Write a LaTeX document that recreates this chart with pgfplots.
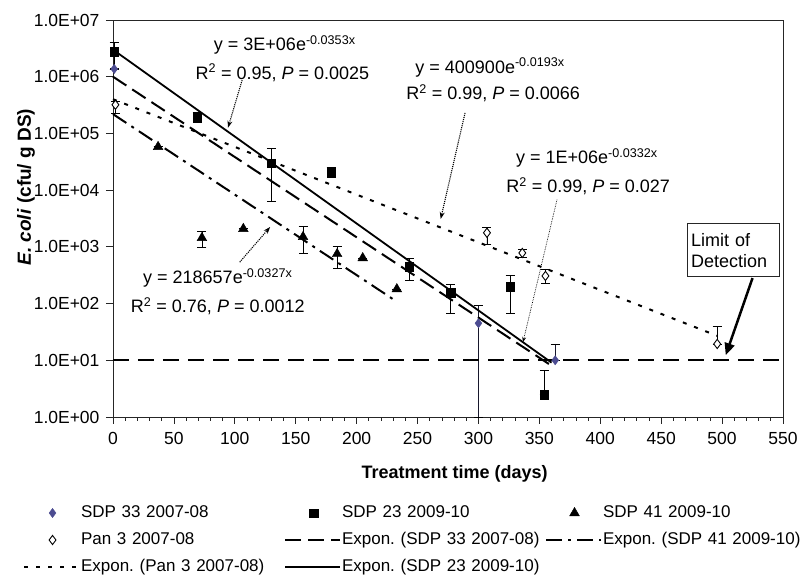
\documentclass[border=0pt]{standalone}
\usepackage{fontspec}
\setmainfont{Liberation Sans}
\usepackage{pgfplots}
\usepackage{pgfplotstable}
\pgfplotsset{compat=1.18}
\usetikzlibrary{arrows.meta}
\definecolor{sdpblue}{RGB}{76,76,145}
\frenchspacing

\pgfplotstableread{
x y ep em
1 1.37e6 0 0
300 45 46 44
363 10 9.4 0
}\sdpA
\pgfplotstableread{
x y ep em
1 2.75e6 1.35e6 1.35e6
69 1.95e5 0.41e5 0.41e5
130 3.0e4 2.4e4 2.36e4
179 2.1e4 0.45e4 0.45e4
243 445 185 185
277 154 68 86
326 196 112 128
354 2.5 4 0
}\sdpB
\pgfplotstableread{
x y ep em
37 5.8e4 0 0
73 1.44e3 450 450
107 2.08e3 0 0
156 1.5e3 780 720
184 750 270 325
205 635 0 0
233 180 0 0
}\sdpC
\pgfplotstableread{
x y ep em
2 3.2e5 0.5e5 0.9e5
307 1.77e3 430 650
336 780 140 140
355 307 100 77
496 19.4 19.6 0
}\pan

\newcommand{\fs}{\fontsize{17}{20}\selectfont}
\newcommand{\ft}{\fontsize{17.5}{20}\selectfont}
\newcommand{\fa}{\fontsize{18}{21}\selectfont}

\begin{document}
\begin{tikzpicture}
\path[use as bounding box] (0,0) rectangle (807pt,575pt);
\begin{axis}[
  at={(113pt,158pt)}, anchor=south west,
  scale only axis, width=670pt, height=397pt,
  xmin=0, xmax=550, ymin=1, ymax=1e7,
  ymode=log, log basis y=10,
  clip=false,
  axis line style={black!85, line width=0.9pt},
  xtick={0,50,...,550}, minor x tick num=4,
  ytick={1,10,100,1000,10000,100000,1000000,10000000},
  yticklabels={1.0E+00,1.0E+01,1.0E+02,1.0E+03,1.0E+04,1.0E+05,1.0E+06,1.0E+07},
  yminorticks=false,
  tick align=outside, tick pos=left,
  major tick length=7pt, minor tick length=4pt,
  every tick/.style={black!85, line width=0.8pt},
  tick label style={font=\ft},
  xticklabel style={yshift=-5pt},
  yticklabel style={xshift=-3pt},
  /pgf/number format/assume math mode=true,
  xlabel={\textbf{Treatment time (days)}},
  ylabel={\textbf{\textit{E. coli} (cfu/ g DS)}},
  every axis x label/.style={at={(axis description cs:0.51,-0.143)}, anchor=center, font=\fontsize{18}{21}\selectfont},
  every axis y label/.style={at={(axis description cs:-0.13,0.579)}, anchor=center, rotate=90, font=\fontsize{19}{22}\selectfont},
  legend columns=3,
  legend style={at={(axis description cs:-0.1343,-0.2179)}, anchor=north west,
    draw=none, fill=none, font=\fs, inner sep=0pt, outer sep=0pt, row sep=8pt, column sep=0pt,
    nodes={inner xsep=1pt, inner ysep=1pt, text width=202pt, align=left, text height=13pt, text depth=4pt}},
  markleg/.style={legend image code/.code={\draw[##1] plot coordinates {(28.5pt,0pt)};}},
  lineleg/.style={legend image code/.code={\draw[##1] (0pt,0pt) -- (55pt,0pt);}},
  errstyle/.style={error bars/.cd, y dir=both, y explicit,
    error bar style={line width=0.8pt, black},
    error mark options={rotate=90, mark size=4.5pt, line width=0.8pt, black}},
]
% data series
\addplot[only marks, mark=diamond*, mark size=4.6pt, draw=sdpblue, fill=sdpblue, markleg,
  error bars/.cd, y dir=both, y explicit,
  error bar style={line width=0.8pt, black!70!sdpblue},
  error mark options={rotate=90, mark size=4.5pt, line width=0.8pt, black}]
  table[x=x, y=y, y error plus=ep, y error minus=em]{\sdpA};
\addlegendentry{SDP 33 2007-08}
\addplot[only marks, mark=square*, mark size=4.3pt, black, markleg, errstyle]
  table[x=x, y=y, y error plus=ep, y error minus=em]{\sdpB};
\addlegendentry{SDP 23 2009-10}
\addplot[only marks, mark=triangle*, mark size=5.6pt, black, markleg, errstyle]
  table[x=x, y=y, y error plus=ep, y error minus=em]{\sdpC};
\addlegendentry{SDP 41 2009-10}
\addplot[only marks, mark=diamond*, mark size=4.6pt, draw=black, fill=white, mark options={line width=0.9pt}, markleg, errstyle]
  table[x=x, y=y, y error plus=ep, y error minus=em]{\pan};
\addlegendentry{Pan 3 2007-08}
% trend lines
\addplot[black, line width=2pt, dash pattern=on 16pt off 7pt, lineleg] coordinates {(0,1.0e6) (362,7.5)};
\addlegendentry{Expon. (SDP 33 2007-08)}
\addplot[black, line width=2pt, dash pattern=on 16pt off 6pt on 3pt off 6pt, lineleg] coordinates {(0,2.19e5) (233,108)};
\addlegendentry{Expon. (SDP 41 2009-10)}
\addplot[black, line width=2pt, dash pattern=on 4pt off 8pt, lineleg] coordinates {(0,4.01e5) (496,27)};
\addlegendentry{Expon. (Pan 3 2007-08)}
\addplot[black, line width=1.8pt, lineleg] coordinates {(0,3.0e6) (360,9.1)};
\addlegendentry{Expon. (SDP 23 2009-10)}
% limit of detection
\addplot[black, line width=2pt, dash pattern=on 16pt off 9pt, forget plot] coordinates {(0,10) (550,10)};

% annotations
\node[font=\fa] at (axis cs:141,3.63e6) {y = 3E+06e\textsuperscript{-0.0353x}};
\node[font=\fa] at (axis cs:139,1.17e6) {R\textsuperscript{2} = 0.95, \textit{P} = 0.0025};
\draw[densely dotted, line width=1.1pt, -{Stealth[length=7pt,width=5pt]}] (axis cs:106,8.7e5) -- (axis cs:94.4,1.26e5);

\node[font=\fa] at (axis cs:309.5,1.45e6) {y = 400900e\textsuperscript{-0.0193x}};
\node[font=\fa] at (axis cs:312,5.1e5) {R\textsuperscript{2} = 0.99, \textit{P} = 0.0066};
\draw[densely dotted, line width=1.1pt, -{Stealth[length=7pt,width=5pt]}] (axis cs:289,2.3e5) -- (axis cs:269,3.1e3);

\node[font=\fa] at (axis cs:389,3.7e4) {y = 1E+06e\textsuperscript{-0.0332x}};
\node[font=\fa] at (axis cs:390,1.17e4) {R\textsuperscript{2} = 0.99, \textit{P} = 0.027};
\draw[densely dotted, line width=0.7pt, -{Stealth[length=5pt,width=4pt]}] (axis cs:364.5,6.8e3) -- (axis cs:336.6,21);

\node[font=\fa] at (axis cs:86,282) {y = 218657e\textsuperscript{-0.0327x}};
\node[font=\fa] at (axis cs:86,91) {R\textsuperscript{2} = 0.76, \textit{P} = 0.0012};
\draw[densely dotted, line width=1.1pt, -{Stealth[length=7pt,width=5pt]}] (axis cs:104,537) -- (axis cs:129,2.24e3);

\node[draw=black!85, line width=1pt, fill=white, minimum width=92pt, minimum height=53pt, text width=84pt, inner xsep=4pt, align=left, font=\fa] at (axis cs:509,865) {Limit of\\Detection};
\draw[line width=2.5pt, -{Triangle[length=12pt,width=10pt]}] (axis cs:525,282) -- (axis cs:503,12.3);
\end{axis}
\end{tikzpicture}
\end{document}
